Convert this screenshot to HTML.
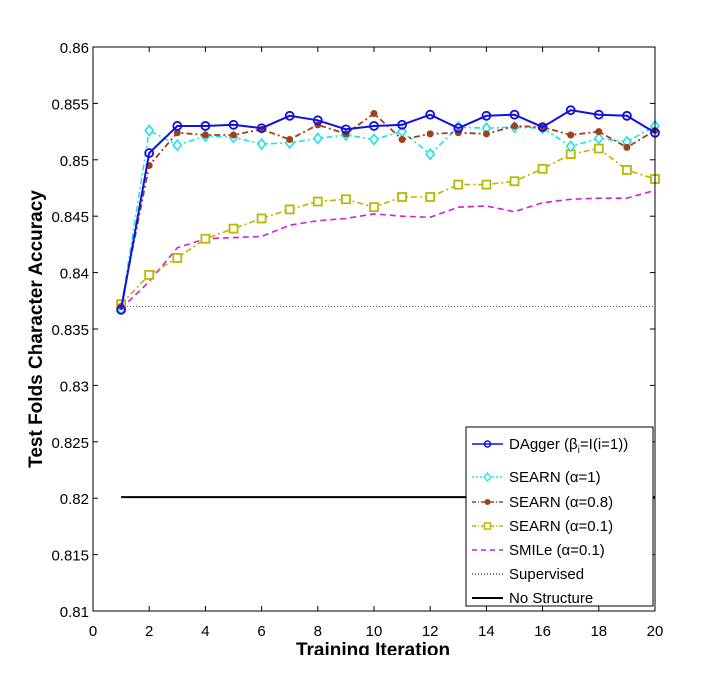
<!DOCTYPE html>
<html><head><meta charset="utf-8"><style>
body{margin:0;background:#fff}
svg{display:block;font-family:"Liberation Sans",sans-serif}
</style></head><body>
<svg id="chart" width="705" height="674">
<g id="grid"></g>
<g id="series"></g>
<g id="axes"></g>
</svg>
<script>
const iterations=[1,2,3,4,5,6,7,8,9,10,11,12,13,14,15,16,17,18,19,20];
const dagger=[0.8367,0.8506,0.8530,0.8530,0.8531,0.8528,0.8539,0.8535,0.8527,0.8530,0.8531,0.8540,0.8528,0.8539,0.8540,0.8529,0.8544,0.8540,0.8539,0.8524];
const searn1=[0.8368,0.8526,0.8513,0.8521,0.8520,0.8514,0.8515,0.8519,0.8522,0.8518,0.8525,0.8505,0.8529,0.8528,0.8529,0.8528,0.8512,0.8519,0.8516,0.8530];
const searn08=[0.8370,0.8495,0.8524,0.8522,0.8522,0.8527,0.8518,0.8531,0.8523,0.8541,0.8518,0.8523,0.8524,0.8523,0.8530,0.8529,0.8522,0.8525,0.8511,0.8526];
const searn01=[0.8372,0.8398,0.8413,0.8430,0.8439,0.8448,0.8456,0.8463,0.8465,0.8458,0.8467,0.8467,0.8478,0.8478,0.8481,0.8492,0.8505,0.8510,0.8491,0.8483];
const smile=[0.8368,0.8392,0.8422,0.8430,0.8431,0.8432,0.8442,0.8446,0.8448,0.8452,0.8450,0.8449,0.8458,0.8459,0.8454,0.8462,0.8465,0.8466,0.8466,0.8473];
const supervised=0.837;
const noStructure=0.8201;
const xTicks=[0,2,4,6,8,10,12,14,16,18,20];
const yTicks=[0.81,0.815,0.82,0.825,0.83,0.835,0.84,0.845,0.85,0.855,0.86];
const yTickLabels=["0.81","0.815","0.82","0.825","0.83","0.835","0.84","0.845","0.85","0.855","0.86"];

const NS="http://www.w3.org/2000/svg";
const L=93,R=655,T=47,B=611;
const xs=v=>L+(v-0)/(20-0)*(R-L);
const ys=v=>B-(v-0.81)/(0.86-0.81)*(B-T);
function mk(tag,attrs,parent){const e=document.createElementNS(NS,tag);for(const k in attrs)e.setAttribute(k,attrs[k]);parent.appendChild(e);return e;}
const axes=document.getElementById('axes'),ser=document.getElementById('series');

const frame=mk('rect',{x:L,y:T,width:R-L,height:B-T,fill:'none',stroke:'#000','stroke-width':1},axes);


xTicks.forEach(t=>{
  const x=xs(t);
  mk('line',{x1:x,x2:x,y1:B,y2:B-5,stroke:'#000'},axes);
  mk('line',{x1:x,x2:x,y1:T,y2:T+5,stroke:'#000'},axes);
  const tx=mk('text',{x:x,y:636,'text-anchor':'middle','font-size':15},axes);
  tx.textContent=t;
  
  
});
yTicks.forEach((t,i)=>{
  const y=ys(t);
  mk('line',{x1:L,x2:L+5,y1:y,y2:y,stroke:'#000'},axes);
  mk('line',{x1:R,x2:R-5,y1:y,y2:y,stroke:'#000'},axes);
  const tx=mk('text',{x:89,y:y+6,'text-anchor':'end','font-size':15},axes);
  tx.textContent=yTickLabels[i];
  
  
});
const xl=mk('text',{x:373,y:656,'text-anchor':'middle','font-size':19,'font-weight':'bold'},axes);
xl.textContent='Training Iteration';


mk('rect',{x:0,y:655,width:705,height:19,fill:'#fff'},axes);
const yl=mk('text',{x:0,y:0,'text-anchor':'middle','font-size':19,'font-weight':'bold',transform:'translate(42,329) rotate(-90)'},axes);
yl.textContent='Test Folds Character Accuracy';



// reference lines
const sup=mk('line',{x1:xs(1),x2:xs(20),y1:ys(supervised),y2:ys(supervised),stroke:'#555','stroke-width':1,'stroke-dasharray':'1,2'},ser);


const ns=mk('line',{x1:xs(1),x2:xs(20),y1:ys(noStructure),y2:ys(noStructure),stroke:'#000','stroke-width':2},ser);



function pathOf(vals){return vals.map((v,i)=>(i?'L':'M')+xs(iterations[i]).toFixed(1)+','+ys(v).toFixed(1)).join('');}
function line(vals,color,dash,w,name){
  const p=mk('path',{d:pathOf(vals),fill:'none',stroke:color,'stroke-width':w,'stroke-dasharray':dash},ser);
  
  
}
line(smile,'#d020d0','6,4',1.6,'smile-line');
line(searn01,'#b8b800','6,3,2,3',1.6,'searn-01-line');
searn01.forEach((v,i)=>{const m=mk('rect',{x:xs(iterations[i])-4,y:ys(v)-4,width:8,height:8,fill:'#fff',stroke:'#b8b800','stroke-width':1.8},ser);

});
line(searn1,'#20e0f0','6,3,2,3',1.6,'searn-1-line');
searn1.forEach((v,i)=>{const x=xs(iterations[i]),y=ys(v);const m=mk('path',{d:`M${x},${y-5}L${x+4},${y}L${x},${y+5}L${x-4},${y}Z`,fill:'#fff',stroke:'#20e0f0','stroke-width':1.6},ser);

});
line(searn08,'#a0401a','6,3,2,3',1.8,'searn-08-line');
searn08.forEach((v,i)=>{const m=mk('circle',{cx:xs(iterations[i]),cy:ys(v),r:3.5,fill:'#a0401a'},ser);

});
line(dagger,'#1010e0','none',2,'dagger-line');
dagger.forEach((v,i)=>{const m=mk('circle',{cx:xs(iterations[i]),cy:ys(v),r:4,fill:'none',stroke:'#1010e0','stroke-width':1.8},ser);

});

// legend
const lg=mk('g',{},axes);


mk('rect',{x:466,y:427,width:187,height:179,fill:'#fff',stroke:'#000'},lg);
const entries=[
 ['DAgger (β','#1010e0','none','circle-o',439],
 ['SEARN (α=1)','#20e0f0','2,2','diamond',472],
 ['SEARN (α=0.8)','#a0401a','4,2,1,2','dot',497],
 ['SEARN (α=0.1)','#b8b800','4,2,1,2','square',521],
 ['SMILe (α=0.1)','#d020d0','5,4','none',545],
 ['Supervised','#555','1,2','none',569],
 ['No Structure','#000','none','none',593]];
entries.forEach(e=>{
  const [label,c,d,mkr,y]=e;
  mk('line',{x1:472,x2:503,y1:y+5,y2:y+5,stroke:c,'stroke-width':(label==='No Structure'?2:1.6),'stroke-dasharray':d},lg);
  if(mkr==='circle-o')mk('circle',{cx:487.5,cy:y+5,r:3,fill:'none',stroke:c,'stroke-width':1.5},lg);
  if(mkr==='diamond')mk('path',{d:`M487.5,${y+1}L491,${y+5}L487.5,${y+9}L484,${y+5}Z`,fill:'#fff',stroke:c,'stroke-width':1.3},lg);
  if(mkr==='dot')mk('circle',{cx:487.5,cy:y+5,r:3,fill:c},lg);
  if(mkr==='square')mk('rect',{x:484.5,y:y+2,width:6,height:6,fill:'#fff',stroke:c,'stroke-width':1.5},lg);
  const t=mk('text',{x:509,y:y+10,'font-size':15},lg);
  if(mkr==='circle-o'){t.innerHTML='DAgger (β<tspan font-size="10" dy="4">i</tspan><tspan dy="-4">=I(i=1))</tspan>';}
  else t.textContent=label;
  
  
});
</script>
</body></html>
